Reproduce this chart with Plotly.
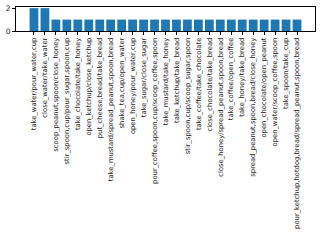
import plotly.graph_objects as go

categories = [
    "take_water/pour_water,cup",
    "close_water/take_water",
    "scoop_peanut,spoon/close_honey",
    "stir_spoon,cup/pour_sugar,spoon,cup",
    "take_chocolate/take_honey",
    "open_ketchup/close_ketchup",
    "put_cheese,bread/take_bread",
    "take_mustard/spread_peanut,spoon,bread",
    "shake_tea,cup/open_water",
    "open_honey/pour_water,cup",
    "take_sugar/close_sugar",
    "pour_coffee,spoon,cup/scoop_coffee,spoon",
    "take_mustard/take_honey",
    "take_ketchup/take_bread",
    "stir_spoon,cup/scoop_sugar,spoon",
    "take_coffee/take_chocolate",
    "close_chocolate/take_bread",
    "close_honey/spread_peanut,spoon,bread",
    "take_coffee/open_coffee",
    "take_honey/take_bread",
    "spread_peanut,spoon,bread/close_honey",
    "open_chocolate/open_peanut",
    "open_water/scoop_coffee,spoon",
    "take_spoon/take_cup",
    "pour_ketchup,hotdog,bread/spread_peanut,spoon,bread",
]
counts = [2, 2] + [1] * 23
y_ticks = [0, 2]

fig = go.Figure(go.Bar(x=list(range(len(categories))), y=counts,
                       marker=dict(color="#1f77b4", line=dict(width=0))))

n = len(categories)
pad = 0.4 + 0.05 * (n - 1 + 0.8)
fig.update_layout(
    template="none",
    width=323, height=250,
    margin=dict(l=16, r=8, t=7, b=219, autoexpand=False),
    plot_bgcolor="white", paper_bgcolor="white",
    bargap=0.2,
    showlegend=False,
    font=dict(family="DejaVu Sans", size=6.8, color="black"),
)
fig.update_xaxes(
    automargin=False,
    range=[-pad, n - 1 + pad],
    tickmode="array", tickvals=list(range(n)), ticktext=categories,
    tickangle=-90, ticks="outside", ticklen=3, tickwidth=0.8, tickcolor="black",
    showline=True, linecolor="black", linewidth=0.8, mirror=True,
    showgrid=False, zeroline=False,
    tickfont=dict(family="DejaVu Sans", size=6.8, color="#222222"),
)
fig.update_yaxes(
    automargin=False,
    range=[0, 2.1],
    tickmode="array", tickvals=y_ticks, ticktext=[str(v) for v in y_ticks],
    ticks="outside", ticklen=3, tickwidth=0.8, tickcolor="black",
    showline=True, linecolor="black", linewidth=0.8, mirror=True,
    showgrid=False, zeroline=False,
    tickfont=dict(family="DejaVu Sans", size=7.5, color="#222222"),
)
fig.write_html("out.html", config={"displayModeBar": False},
               post_script="document.body.style.margin='0';")
